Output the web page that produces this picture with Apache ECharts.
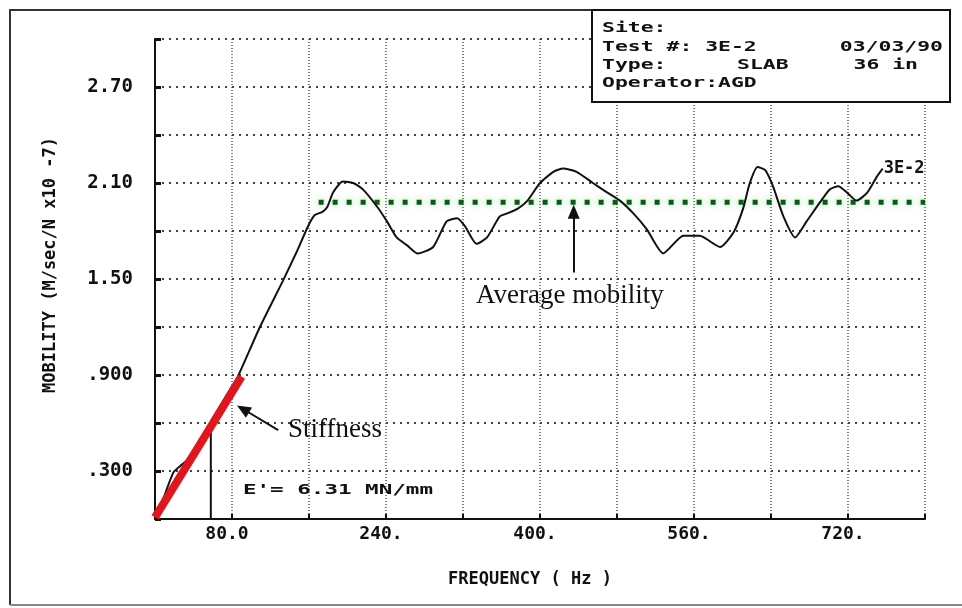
<!DOCTYPE html>
<html><head><meta charset="utf-8">
<script src="https://cdn.jsdelivr.net/npm/echarts@6/dist/echarts.min.js"></script>
<style>html,body{margin:0;padding:0;background:#fff}#c{width:962px;height:608px}</style>
</head><body><div id="c"></div>
<script>
// ---- data ----
const freqHz = [0,10,19,26,32,47,62,78,86,109,133,148,159,166,174,179,185,195,206,216,231,241,251,262,273,289,303,314,322,334,345,358,366,377,387,400,414,424,438,455,470,483,497,511,528,549,566,587,601,611,618,626,634,642,653,665,677,691,701,710,719,729,740,750,756];
const mobility = [0,0.15,0.29,0.33,0.36,0.49,0.65,0.81,0.89,1.20,1.49,1.68,1.83,1.90,1.92,1.95,2.04,2.11,2.10,2.06,1.95,1.86,1.76,1.71,1.66,1.70,1.86,1.88,1.83,1.72,1.76,1.89,1.91,1.94,1.99,2.10,2.17,2.19,2.17,2.10,2.04,1.99,1.91,1.81,1.66,1.77,1.77,1.70,1.79,1.94,2.10,2.20,2.18,2.08,1.89,1.76,1.86,1.98,2.06,2.08,2.04,1.99,2.04,2.14,2.19];
const stiffFreq = [0, 90];
const stiffMob = [0.01, 0.89];
const avgFreq = [170, 800];
const avgMob = [1.98, 1.98];
const markerFreq = [58, 58];
const markerMob = [0, 0.55];
const xTickValues = [80, 240, 400, 560, 720];
const xTickLabels = ['80.0', '240.', '400.', '560.', '720.'];
const yTickValues = [0.3, 0.9, 1.5, 2.1, 2.7];
const yTickLabels = ['.300', '.900', '1.50', '2.10', '2.70'];
const seriesName = '3E-2';
const infoLines = ['Site:', 'Test #: 3E-2', 'Type:', 'Operator:AGD'];
const infoRight = ['03/03/90', '36 in'];
const infoType = 'SLAB';
const eText = "E'= 6.31 MN/mm";

// ---- chart ----
const mono = '"DejaVu Sans Mono", "Liberation Mono", monospace';
const serif = '"Liberation Serif", "DejaVu Serif", serif';
const zip = (a, b) => a.map((v, i) => [v, b[i]]);
const fmt = (vals, texts) => v => {
  for (let i = 0; i < vals.length; i++) if (Math.abs(v - vals[i]) < 1e-6) return texts[i];
  return '';
};
const chart = echarts.init(document.getElementById('c'));
const option = {
  animation: false,
  backgroundColor: '#fff',
  grid: { left: 155, right: 37, top: 39, bottom: 89 },
  xAxis: {
    type: 'value', min: 0, max: 800, interval: 80,
    name: 'FREQUENCY ( Hz )', nameLocation: 'middle', nameGap: 52,
    nameTextStyle: { fontFamily: mono, fontWeight: 'bold', fontSize: 17, color: '#111', padding: [0, 20, 0, 0] },
    axisLine: { show: true, onZero: false, lineStyle: { color: '#111', width: 2 } },
    axisTick: { show: true, inside: true, length: 5, lineStyle: { color: '#111', width: 2 } },
    axisLabel: { formatter: fmt(xTickValues, xTickLabels), fontFamily: mono, fontWeight: 'bold', fontSize: 18, color: '#111', margin: 6, padding: [0, 10, 0, 0] },
    splitLine: { show: true, lineStyle: { color: '#555', type: [1, 2], width: 1.5 } }
  },
  yAxis: {
    type: 'value', min: 0, max: 3, interval: 0.3,
    name: 'MOBILITY (M/sec/N x10 -7)', nameLocation: 'middle', nameGap: 96, nameRotate: 90,
    nameTextStyle: { fontFamily: mono, fontWeight: 'bold', fontSize: 17, color: '#111', padding: [0, 0, 0, 28] },
    axisLine: { show: true, onZero: false, lineStyle: { color: '#111', width: 2 } },
    axisTick: { show: true, inside: true, length: 6, lineStyle: { color: '#111', width: 3 } },
    axisLabel: { formatter: fmt(yTickValues, yTickLabels), fontFamily: mono, fontWeight: 'bold', fontSize: 19, color: '#111', margin: 22 },
    splitLine: { show: true, lineStyle: { color: '#444', type: [2, 5], width: 2 } }
  },
  series: [
    {
      name: 'avg', type: 'line', data: zip(avgFreq, avgMob), symbol: 'none', silent: true, z: 3,
      lineStyle: { color: '#0b5a16', width: 5, type: [5, 9], shadowColor: 'rgba(90,210,90,0.7)', shadowBlur: 6 }
    },
    {
      name: seriesName, type: 'line', data: zip(freqHz, mobility), symbol: 'none', smooth: 0.2, silent: true, z: 4,
      lineStyle: { color: '#111', width: 2 },
      endLabel: { show: true, formatter: seriesName, fontFamily: mono, fontWeight: 'bold', fontSize: 17, color: '#111', distance: 1 }
    },
    {
      name: 'marker', type: 'line', data: zip(markerFreq, markerMob), symbol: 'none', silent: true, z: 4,
      lineStyle: { color: '#111', width: 2 },
      markLine: {
        silent: true, symbol: ['none', 'triangle'], symbolSize: [12, 14], animation: false,
        label: { show: false },
        lineStyle: { color: '#111', width: 2, type: 'solid' },
        data: [
          [{ coord: [128, 0.556] }, { coord: [91.4, 0.6875] }],
          [{ coord: [435, 1.54] }, { coord: [435, 1.92] }]
        ]
      }
    },
    {
      name: 'stiffness', type: 'line', data: zip(stiffFreq, stiffMob), symbol: 'none', silent: true, z: 5,
      lineStyle: { color: '#e3151c', width: 8 }
    }
  ]
};
chart.setOption(option);

const px = (x, y) => chart.convertToPixel({ gridIndex: 0 }, [x, y]);
const pS = px(138.2, 0.556);
const pA = px(431, 1.394);
const pE = px(91.4, 0.181);
const boxFont = { fontFamily: mono, fontWeight: 'bold', fontSize: 14, fill: '#111' };
const txt = (x, y, s, align, sx) => ({ type: 'text', x: x, y: y, scaleX: sx || 1.53, z: 100,
  style: Object.assign({ text: s, textAlign: align || 'left', textVerticalAlign: 'middle' }, boxFont) });
chart.setOption({
  graphic: [
    { type: 'polyline', shape: { points: [[10, 605], [10, 10], [592, 10]] }, style: { stroke: '#333', lineWidth: 2, fill: null }, z: 90 },
    { type: 'line', shape: { x1: 10, y1: 605, x2: 962, y2: 605 }, style: { stroke: '#888', lineWidth: 2 }, z: 90 },
    { type: 'rect', shape: { x: 592, y: 10, width: 358, height: 92 }, style: { fill: '#fff', stroke: '#111', lineWidth: 2 }, z: 95 },
    txt(602, 28, infoLines[0]),
    txt(602, 47, infoLines[1]),
    txt(943, 47, infoRight[0], 'right'),
    txt(602, 65, infoLines[2]),
    txt(737, 65, infoType),
    txt(918, 65, infoRight[1], 'right'),
    txt(602, 83, infoLines[3]),
    txt(pE[0], pE[1], eText, 'left', 1.61),
    { type: 'text', x: pS[0], y: pS[1], z: 100, style: { text: 'Stiffness', fontFamily: serif, fontSize: 27, fill: '#111', textAlign: 'left', textVerticalAlign: 'middle' } },
    { type: 'text', x: pA[0], y: pA[1], z: 100, style: { text: 'Average mobility', fontFamily: serif, fontSize: 27, fill: '#111', textAlign: 'center', textVerticalAlign: 'middle' } }
  ]
});
</script>
</body></html>
